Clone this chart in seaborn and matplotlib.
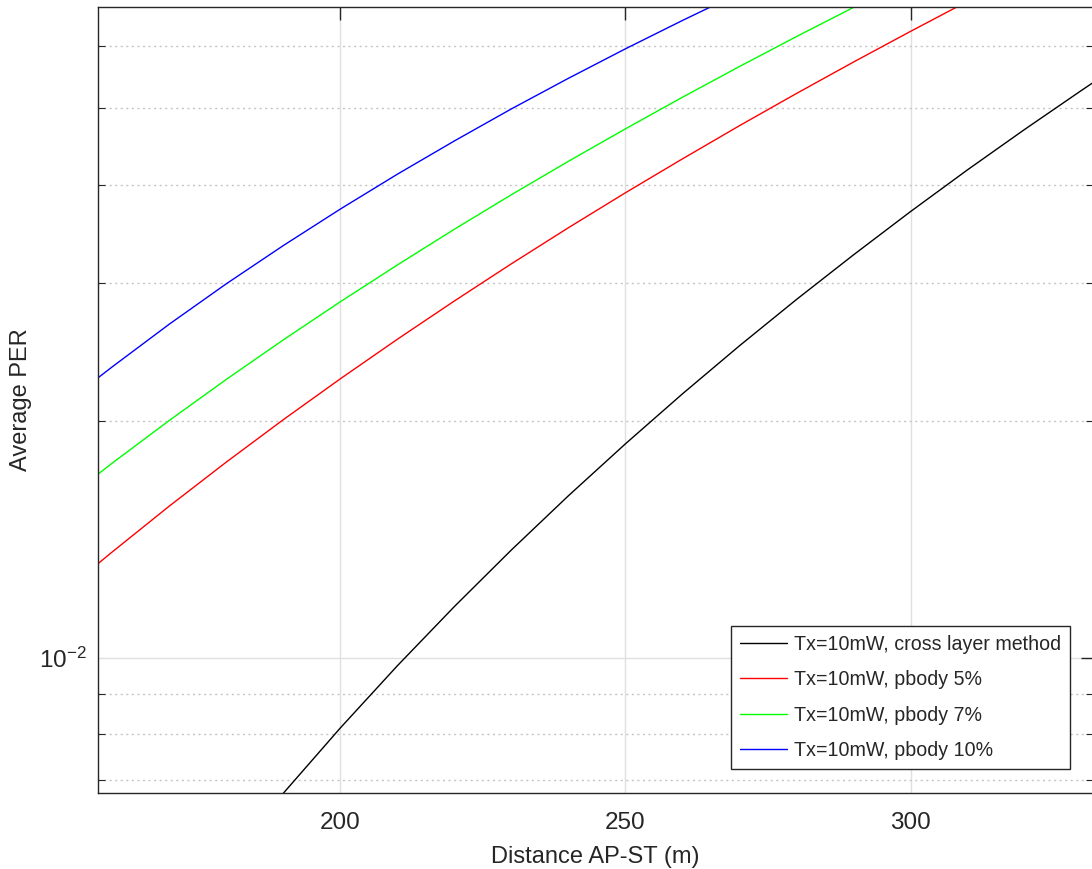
import numpy as np
import pandas as pd
import matplotlib
matplotlib.use("Agg")
import matplotlib.pyplot as plt
from matplotlib.ticker import LogLocator, NullFormatter
import seaborn as sns

# ---------------- data ----------------
x_black = [185, 190, 200, 210, 220, 230, 240, 250, 260, 270, 280, 290, 300, 310, 320, 330, 335]
y_black = [0.006087, 0.006725, 0.008143, 0.009770, 0.011621, 0.013716, 0.016076, 0.018718,
           0.021669, 0.024946, 0.028570, 0.032560, 0.036961, 0.041773, 0.047011, 0.052723,
           0.055773]

x_red = [157.5, 160, 170, 180, 190, 200, 210, 220, 230, 240, 250, 260, 270, 280, 290, 300, 310]
y_red = [0.013176, 0.013637, 0.015596, 0.017742, 0.020090, 0.022646, 0.025427, 0.028445,
         0.031718, 0.035252, 0.039055, 0.043132, 0.047534, 0.052240, 0.057280, 0.062661,
         0.068422]

x_green = [157.5, 160, 170, 180, 190, 200, 210, 220, 230, 240, 250, 260, 270, 280, 290, 295]
y_green = [0.017128, 0.017689, 0.020045, 0.022605, 0.025380, 0.028379, 0.031608, 0.035097,
           0.038831, 0.042824, 0.047098, 0.051667, 0.056532, 0.061716, 0.067223, 0.070081]

x_blue = [157.5, 160, 170, 180, 190, 200, 210, 220, 230, 240, 250, 260, 270]
y_blue = [0.022710, 0.023454, 0.026577, 0.029913, 0.033458, 0.037234, 0.041237, 0.045457,
          0.049934, 0.054613, 0.059539, 0.064697, 0.070113]

labels = ["Tx=10mW, cross layer method", "Tx=10mW, pbody 5%",
          "Tx=10mW, pbody 7%", "Tx=10mW, pbody 10%"]
colors = ["#000000", "#ff0000", "#00ff00", "#0000ff"]

x_ticks = [200, 250, 300]
x_label = "Distance AP-ST (m)"
y_label = "Average PER"

# ---------------- build long-form table ----------------
frames = []
for lab, xs, ys in zip(labels, [x_black, x_red, x_green, x_blue],
                       [y_black, y_red, y_green, y_blue]):
    frames.append(pd.DataFrame({"x": xs, "y": ys, "series": lab}))
df = pd.concat(frames, ignore_index=True)

# ---------------- plotting ----------------
sns.set_style("white")
plt.rcParams["font.family"] = ["Liberation Sans", "DejaVu Sans"]
plt.rcParams["mathtext.fontset"] = "custom"
plt.rcParams["mathtext.rm"] = "Liberation Sans"

fig = plt.figure(figsize=(10.92, 8.69), dpi=100)
ax = fig.add_axes([98 / 1092, 1 - 793 / 869, (1093 - 98) / 1092, (793 - 7) / 869])

sns.lineplot(data=df, x="x", y="y", hue="series", hue_order=labels,
             palette=dict(zip(labels, colors)), linewidth=1.0, ax=ax,
             sort=False, estimator=None, legend=True)

ax.set_yscale("log")
ax.set_xlim(157.5, 332)
ax.set_ylim(0.00673, 0.0673)

ax.set_xticks(x_ticks)
ax.set_xticklabels([str(t) for t in x_ticks])
ax.yaxis.set_major_locator(LogLocator(base=10))
ax.yaxis.set_minor_locator(LogLocator(base=10, subs=np.arange(2, 10)))
ax.yaxis.set_minor_formatter(NullFormatter())

ax.grid(True, which="major", axis="both", color="#e0e0e0", linestyle="-", linewidth=1.0)
ax.grid(True, which="minor", axis="y", color="#c4c4c4", linestyle=(0, (1.5, 2.5)), linewidth=1.0)
ax.set_axisbelow(True)

ax.tick_params(axis="both", which="major", direction="in", length=9, width=1.0,
               color="#262626", labelsize=17.5, labelcolor="#262626", top=True, right=True)
ax.tick_params(axis="y", which="minor", direction="in", length=5, width=0.8,
               color="#262626", right=True, left=True)
ax.tick_params(axis="x", pad=13.5)
ax.tick_params(axis="y", pad=8)

for s in ax.spines.values():
    s.set_color("#262626")
    s.set_linewidth(1.0)

ax.set_xlabel(x_label, fontsize=17, color="#262626", labelpad=8.5)
ax.set_ylabel(y_label, fontsize=17, color="#262626", labelpad=5.5)

leg = ax.legend(loc="lower right", bbox_to_anchor=(1070 / 1092, 1 - 769 / 869),
                bbox_transform=fig.transFigure, borderaxespad=0, fontsize=14.1,
                frameon=True, fancybox=False, framealpha=1, edgecolor="#262626",
                handlelength=2.4, labelspacing=0.84, borderpad=0.45, handletextpad=0.35)
leg.get_frame().set_linewidth(1.0)
for line in leg.get_lines():
    line.set_linewidth(1.0)

fig.savefig("out.png", dpi=100)
